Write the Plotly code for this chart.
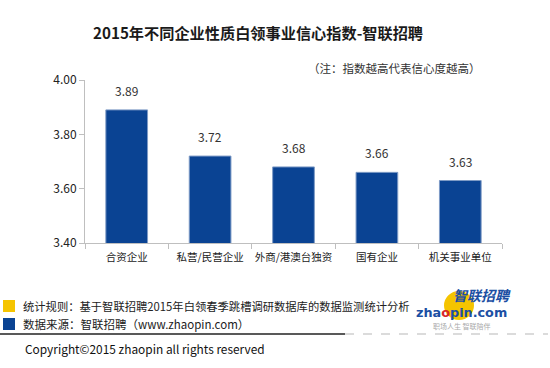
import plotly.graph_objects as go

categories = ["合资企业", "私营/民营企业", "外商/港澳台独资", "国有企业", "机关事业单位"]
values = [3.89, 3.72, 3.68, 3.66, 3.63]
y_ticks = [3.40, 3.60, 3.80, 4.00]
title_text = "2015年不同企业性质白领事业信心指数-智联招聘"
note_text = "（注：指数越高代表信心度越高）"
rule_text = "统计规则：基于智联招聘2015年白领春季跳槽调研数据库的数据监测统计分析"
source_text = "数据来源：智联招聘（www.zhaopin.com）"
copyright_text = "Copyright©2015 zhaopin all rights reserved"

W, H = 550, 368
L, R, T, B = 85, 502, 80, 243
FONT = "Noto Sans CJK SC"


def px(x):
    return (x - L) / (R - L)


def py(y):
    return (B - y) / (B - T)


fig = go.Figure(go.Bar(
    x=categories, y=values,
    marker=dict(color="#0A4393", line=dict(color="#7E9BC6", width=1)),
    width=0.5, hoverinfo="x+y",
))

ann = []
for c, v in zip(categories, values):
    ann.append(dict(text=f"{v:.2f}", x=c, y=v, xref="x", yref="y", showarrow=False,
                    xanchor="center", yanchor="bottom", yshift=9,
                    font=dict(size=12, color="#333333", family=FONT)))
ann.append(dict(text=f"<b>{title_text}</b>", x=px(258), y=py(32), xref="paper", yref="paper",
                showarrow=False, xanchor="center", yanchor="middle",
                font=dict(size=15.2, color="#1a1a1a", family=FONT)))
ann.append(dict(text=note_text, x=px(483), y=py(68), xref="paper", yref="paper",
                showarrow=False, xanchor="right", yanchor="middle",
                font=dict(size=11.5, color="#333333", family=FONT)))
ann.append(dict(text=rule_text, x=px(21), y=py(306), xref="paper", yref="paper",
                showarrow=False, xanchor="left", yanchor="middle",
                font=dict(size=11.3, color="#222222", family=FONT)))
ann.append(dict(text=source_text, x=px(21), y=py(324), xref="paper", yref="paper",
                showarrow=False, xanchor="left", yanchor="middle",
                font=dict(size=11.5, color="#222222", family=FONT)))
ann.append(dict(text=copyright_text, x=px(23), y=py(348), xref="paper", yref="paper",
                showarrow=False, xanchor="left", yanchor="middle",
                font=dict(size=11.9, color="#111111", family=FONT)))
# logo
ann.append(dict(text="<b><i>智联招聘</i></b>", x=px(512), y=py(295), xref="paper", yref="paper",
                showarrow=False, xanchor="right", yanchor="middle", borderpad=0,
                font=dict(size=14, color="#1C4FA3", family=FONT)))
ann.append(dict(text="<b>zha<span style='color:#D7262B'>o</span>pin.com</b>", x=px(508), y=py(312),
                xref="paper", yref="paper", borderpad=0,
                showarrow=False, xanchor="right", yanchor="middle",
                font=dict(size=12.8, color="#1C4FA3", family="DejaVu Sans")))
ann.append(dict(text="职场人生 智联陪伴", x=px(492), y=py(326), xref="paper", yref="paper",
                showarrow=False, xanchor="right", yanchor="middle", borderpad=0,
                font=dict(size=7, color="#aaaaaa", family=FONT)))

shapes = [
    dict(type="rect", xref="paper", yref="paper", x0=px(3), x1=px(15), y0=py(312), y1=py(300),
         fillcolor="#F5C400", line=dict(width=0)),
    dict(type="rect", xref="paper", yref="paper", x0=px(3), x1=px(15), y0=py(330), y1=py(318),
         fillcolor="#0A4393", line=dict(width=0)),
    dict(type="line", xref="paper", yref="paper", x0=px(0), x1=px(345), y0=py(334), y1=py(334),
         line=dict(color="#222222", width=1.5)),
    dict(type="line", xref="paper", yref="paper", x0=px(345), x1=px(548), y0=py(334), y1=py(334),
         line=dict(color="#d0d0d0", width=1.5, dash="dash")),
    dict(type="circle", xref="paper", yref="paper", x0=px(444), x1=px(474), y0=py(320), y1=py(291),
         fillcolor="#F5C400", line=dict(width=0), layer="below"),
]

fig.update_layout(
    width=W, height=H,
    margin=dict(l=L, r=W - R, t=T, b=H - B),
    paper_bgcolor="white", plot_bgcolor="white",
    showlegend=False,
    font=dict(family=FONT, color="#333333"),
    annotations=ann, shapes=shapes,
    xaxis=dict(showline=True, linecolor="#BFBFBF", linewidth=1, ticks="outside",
               tickcolor="#BFBFBF", ticklen=5, tickson="boundaries", tickangle=0,
               ticklabelstandoff=4,
               tickfont=dict(size=10.5, color="#222222", family=FONT), showgrid=False),
    yaxis=dict(range=[3.40, 4.00], tickvals=y_ticks, ticktext=[f"{v:.2f}" for v in y_ticks],
               showline=True, linecolor="#BFBFBF", linewidth=1, ticks="outside",
               tickcolor="#BFBFBF", ticklen=5, showgrid=False, zeroline=False,
               tickfont=dict(size=12, color="#222222", family=FONT)),
)

fig.write_html("out.html", config={"displayModeBar": False},
               post_script="document.body.style.margin='0';")
